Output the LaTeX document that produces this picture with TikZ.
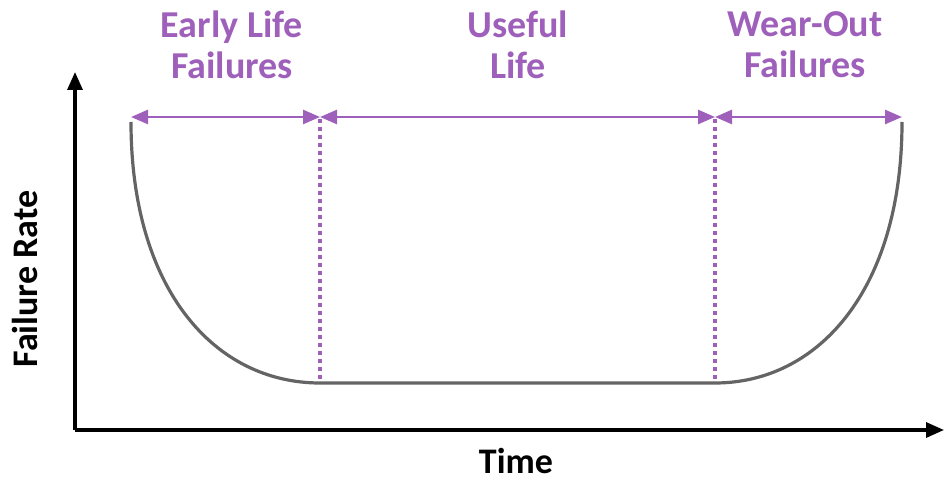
\documentclass[tikz,border=0pt]{standalone}
\usepackage{fontspec}
\setmainfont{Carlito}
\usetikzlibrary{arrows.meta}
\definecolor{lbl}{RGB}{158,96,186}
\definecolor{curvegray}{RGB}{100,100,100}
\begin{document}
\begin{tikzpicture}[x=1pt,y=-1pt,
  axis/.style={line width=3.2pt,-{Triangle[length=18pt,width=15pt]}},
  tub/.style={curvegray,line width=3.2pt},
  span/.style={lbl,line width=2.6pt,{Triangle[length=17pt,width=14pt]}-{Triangle[length=17pt,width=14pt]}},
  divider/.style={lbl,line width=4pt,dash pattern=on 4pt off 4pt},
  phase/.style={lbl,font=\bfseries\fontsize{38}{41}\selectfont,align=center,inner sep=0pt},
  axlabel/.style={font=\bfseries\fontsize{36}{40}\selectfont,inner sep=0pt,anchor=base}]
\useasboundingbox (0,0) rectangle (944,478);
% axes
\coordinate (o) at (75,430);
\coordinate (ytop) at (75,72);
\coordinate (xend) at (944,430);
\draw[axis] (o) -- (ytop);
\draw[axis] (o) -- (xend);
% curve points
\coordinate (l0) at (131,122);
\coordinate (l1) at (320,383);
\coordinate (r1) at (715,383);
\coordinate (r0) at (902,122);
\draw[tub] (l0) .. controls (131,290) and (215,383) .. (l1) -- (r1)
  .. controls (818,383) and (902,290) .. (r0);
% dividers
\coordinate (d1t) at (320,119);
\coordinate (d2t) at (715,119);
\coordinate (a0) at (131,117);
\coordinate (a1) at (320,117);
\coordinate (a2) at (715,117);
\coordinate (a3) at (902,117);
\draw[divider] (d1t) -- (l1);
\draw[divider] (d2t) -- (r1);
\draw[span] (a0) -- (a1);
\draw[span] (a1) -- (a2);
\draw[span] (a2) -- (a3);
% labels
\node[phase] (early) at (232,45) {Early Life\\Failures};
\node[phase] (useful) at (518,45) {Useful\\Life};
\node[phase] (wear) at (805,45) {Wear-Out\\Failures};
\node[axlabel,rotate=90] (yl) at (37,279) {Failure Rate};
\node[axlabel] (xl) at (516,473) {Time};
\end{tikzpicture}
\end{document}
